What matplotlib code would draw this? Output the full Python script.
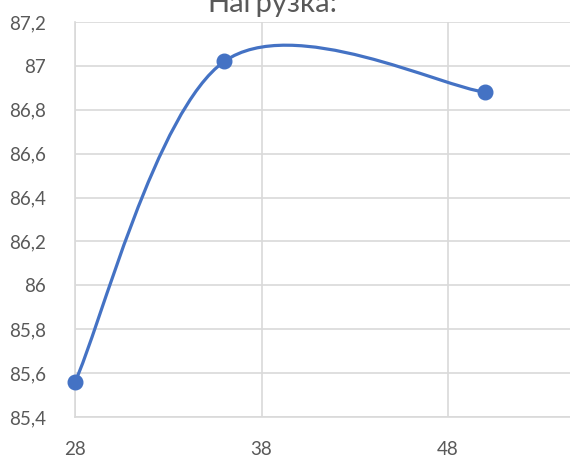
import matplotlib
matplotlib.use('Agg')
import matplotlib.pyplot as plt
from matplotlib.path import Path
from matplotlib.patches import PathPatch
import numpy as np

plt.rcParams['font.family'] = ['Lato', 'DejaVu Sans']

x_vals = [28, 36, 50]
y_vals = [85.56, 87.02, 86.88]
title = 'Нагрузка:'
x_ticks = [28, 38, 48]
y_ticks = [85.4, 85.6, 85.8, 86.0, 86.2, 86.4, 86.6, 86.8, 87.0, 87.2]

line_color = '#4472C4'
grid_color = '#D9D9D9'
text_color = '#595959'


def fmt(v):
    s = ('%.1f' % v).rstrip('0').rstrip('.')
    return s.replace('.', ',')


fig = plt.figure(figsize=(5.7, 4.59), dpi=100)
ax = fig.add_axes([0.1316, 0.0915, 0.9816, 0.8606])

# smooth line like Excel (bezier through the points)
pts = np.column_stack([x_vals, y_vals]).astype(float)
ext = np.vstack([pts[0], pts, pts[-1]])
verts = [tuple(pts[0])]
codes = [Path.MOVETO]
for i in range(1, len(ext) - 2):
    p0, p1, p2, p3 = ext[i - 1], ext[i], ext[i + 1], ext[i + 2]
    c1 = p1 + (p2 - p0) / 6.0
    c2 = p2 - (p3 - p1) / 6.0
    verts += [tuple(c1), tuple(c2), tuple(p2)]
    codes += [Path.CURVE4] * 3
ax.add_patch(PathPatch(Path(verts, codes), fill=False, edgecolor=line_color,
                       lw=2.3, capstyle='round', zorder=3))
ax.plot(x_vals, y_vals, 'o', color=line_color, markersize=10.5, zorder=4,
        clip_on=False)

ax.set_xlim(28, 58)
ax.set_ylim(85.4, 87.2)
ax.set_xticks(x_ticks + [58])
ax.set_yticks(y_ticks)
ax.set_xticklabels([str(t) for t in x_ticks] + [''])
ax.set_yticklabels([fmt(t) for t in y_ticks])
ax.tick_params(length=0, colors=text_color, labelsize=13.5)
ax.tick_params(axis='y', pad=21)
ax.tick_params(axis='x', pad=17)
ax.grid(True, color=grid_color, lw=1.2)
ax.set_axisbelow(True)
for s in ['top', 'right']:
    ax.spines[s].set_visible(False)
for s in ['left', 'bottom']:
    ax.spines[s].set_color(grid_color)
    ax.spines[s].set_linewidth(1.2)

fig.text(0.478, 0.974, title, ha='center', va='baseline', fontsize=21, color=text_color)

fig.savefig('out.png', dpi=100)
